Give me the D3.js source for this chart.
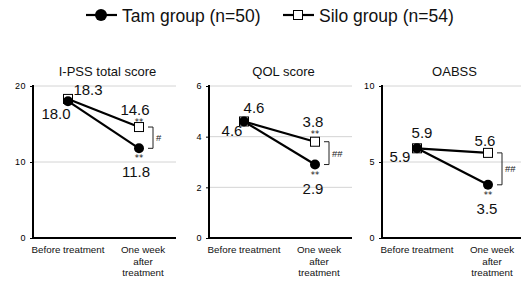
<!DOCTYPE html>
<html><head><meta charset="utf-8">
<script src="https://cdn.jsdelivr.net/npm/d3@7"></script>
<style>body{margin:0;background:#fff}svg{display:block;font-family:"Liberation Sans",Arial,sans-serif}.ast{font-family:"DejaVu Sans";font-variant-emoji:text}</style>
</head><body>
<svg id="c" width="521" height="283"></svg>
<script>
// ---- data ----
const categories = ["Before treatment", "One week after treatment"];
const panelTitles = ["I-PSS total score", "QOL score", "OABSS"];
const seriesNames = ["Tam group (n=50)", "Silo group (n=54)"];
const tamValues = [[18.0, 11.8], [4.6, 2.9], [5.9, 3.5]];
const siloValues = [[18.3, 14.6], [4.6, 3.8], [5.9, 5.6]];
const yMaxes = [20, 6, 10];
const yTickValues = [[0, 10, 20], [0, 2, 4, 6], [0, 5, 10]];
const tamSig = ["**", "**", "**"];       // vs. baseline, after treatment
const siloSig = ["**", "**", ""];
const betweenSig = ["#", "##", "##"];

// ---- layout (styles/positions) ----
const layout = [
  {ax: 33, right: 176, labTam: [-12, 18], labSilo: [20, -4], afterSilo: [-4, -12], sigSilo: -2},
  {ax: 209, right: 352, labTam: [-12, 14.5], labSilo: [10, -8.5], afterSilo: [-2, -15], sigSilo: -5},
  {ax: 382, right: 521, labTam: [-17, 14], labSilo: [5, -10], afterSilo: [-3, -7], sigSilo: 0}
];
const afterTamDx = [-3, -2, -1];
const yTop = 86, yBot = 238;

const svg = d3.select("#c");

// legend
const leg = svg.append("g");
[[86, 0], [283, 1]].forEach(([x0, i]) => {
  leg.append("line").attr("x1", x0).attr("x2", x0 + 31).attr("y1", 15).attr("y2", 15)
    .attr("stroke", "#000").attr("stroke-width", 2.2);
  if (i === 0) leg.append("circle").attr("cx", x0 + 15).attr("cy", 15).attr("r", 6).attr("fill", "#000");
  else leg.append("rect").attr("x", x0 + 15 - 4.5).attr("y", 15 - 4.5).attr("width", 9).attr("height", 9)
    .attr("fill", "#fff").attr("stroke", "#000").attr("stroke-width", 1);
  leg.append("text").attr("x", x0 + 36).attr("y", 21.5).attr("font-size", 17.5).attr("fill", "#111")
    .text(seriesNames[i]);
});

panelTitles.forEach((title, p) => {
  const L = layout[p];
  const g = svg.append("g");
  const y = d3.scaleLinear().domain([0, yMaxes[p]]).range([yBot, yTop]);
  const x = d3.scalePoint().domain(categories).range([L.ax + 35, L.ax + 106]);

  // gridlines
  g.selectAll(".grid").data(yTickValues[p].filter(v => v > 0)).join("line")
    .attr("x1", L.ax).attr("x2", L.right).attr("y1", d => y(d)).attr("y2", d => y(d))
    .attr("stroke", "#d4d4d4").attr("stroke-width", 1);

  // y axis
  const yAxis = d3.axisLeft(y).tickValues(yTickValues[p]).tickSize(3).tickPadding(4).tickFormat(d3.format("d"));
  const ag = g.append("g").attr("transform", `translate(${L.ax},0)`).call(yAxis);
  ag.select(".domain").remove();
  ag.selectAll("text").attr("font-size", 9).attr("fill", "#000").attr("font-family", "Liberation Sans, Arial").attr("letter-spacing", 0.5);
  ag.selectAll(".tick line").attr("stroke", "#000");
  g.append("line").attr("x1", L.ax).attr("x2", L.ax).attr("y1", yTop - 1).attr("y2", yBot + 1)
    .attr("stroke", "#000").attr("stroke-width", 2);
  g.append("line").attr("x1", L.ax).attr("x2", L.right).attr("y1", yBot).attr("y2", yBot)
    .attr("stroke", "#000").attr("stroke-width", 2);

  // x category labels
  const lines = [["Before treatment"], ["One week", "after", "treatment"]];
  categories.forEach((c, i) => {
    const t = g.append("text").attr("text-anchor", "middle").attr("font-size", 9.8).attr("fill", "#111");
    lines[i].forEach((ln, k) => {
      t.append("tspan").attr("x", x(c) + (i === 1 ? 4 : 0)).attr("y", 253 + k * 11.5).text(ln);
    });
  });

  // title
  g.append("text").attr("x", (L.ax + L.right) / 2 + 3).attr("y", 76).attr("text-anchor", "middle")
    .attr("font-size", 13).attr("fill", "#111").text(title);

  const lineGen = d3.line().x((d, i) => x(categories[i])).y(d => y(d));
  g.append("path").datum(siloValues[p]).attr("d", lineGen).attr("fill", "none").attr("stroke", "#000").attr("stroke-width", 2.2);
  g.append("path").datum(tamValues[p]).attr("d", lineGen).attr("fill", "none").attr("stroke", "#000").attr("stroke-width", 2.2);

  // markers
  g.selectAll(".sq").data(siloValues[p]).join("rect")
    .attr("x", (d, i) => x(categories[i]) - 4.5).attr("y", d => y(d) - 4.5).attr("width", 9).attr("height", 9)
    .attr("fill", "#fff").attr("stroke", "#000").attr("stroke-width", 1);
  g.selectAll(".ci").data(tamValues[p]).join("circle")
    .attr("cx", (d, i) => x(categories[i])).attr("cy", d => y(d)).attr("r", 5).attr("fill", "#000");

  // value labels
  const fmt = d3.format(".1f");
  const lbl = (tx, ty, s, fs, cls) => g.append("text").attr("x", tx).attr("y", ty).attr("text-anchor", "middle")
    .attr("class", cls || null).attr("font-size", fs).attr("fill", "#111").text(s);
  const xb = x(categories[0]), xa = x(categories[1]);
  lbl(xb + L.labTam[0], y(tamValues[p][0]) + L.labTam[1], fmt(tamValues[p][0]), 15);
  lbl(xb + L.labSilo[0], y(siloValues[p][0]) + L.labSilo[1], fmt(siloValues[p][0]), 15);
  const ys = y(siloValues[p][1]), yt = y(tamValues[p][1]);
  lbl(xa + L.afterSilo[0], ys + L.afterSilo[1], fmt(siloValues[p][1]), 15);
  if (siloSig[p]) lbl(xa, ys + L.sigSilo, siloSig[p], 8.5, "ast");
  lbl(xa, yt + 13, tamSig[p], 8.5, "ast");
  lbl(xa + afterTamDx[p], yt + 29, fmt(tamValues[p][1]), 15);

  // bracket
  const bx0 = xa + 9, bx1 = xa + 14;
  g.append("path").attr("d", `M${bx0},${ys}H${bx1}V${yt}H${bx0}`).attr("fill", "none")
    .attr("stroke", "#222").attr("stroke-width", 1);
  g.append("text").attr("x", bx1 + 3).attr("y", (ys + yt) / 2 + 3.5).attr("font-size", 9.5).attr("fill", "#222")
    .text(betweenSig[p]);
});
</script>
</body></html>
